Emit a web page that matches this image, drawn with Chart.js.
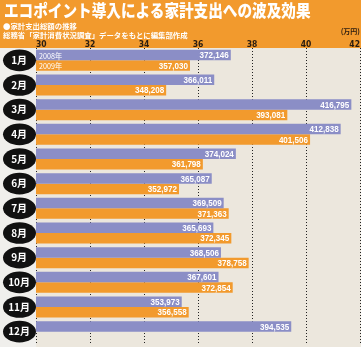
<!DOCTYPE html>
<html>
<head>
<meta charset="utf-8">
<script src="https://cdn.jsdelivr.net/npm/chart.js@4/dist/chart.umd.min.js"></script>
<style>
  html, body { margin: 0; padding: 0; background: #f0efec; }
  #wrap { position: relative; width: 361px; height: 347px; overflow: hidden; }
  #head { position: absolute; left: 0; top: 0; width: 361px; pointer-events: none; color: #fff;
          font-family: "Noto Sans CJK JP", sans-serif; font-weight: bold; white-space: nowrap; }
  #head .t { position: absolute; left: 4px; top: 0px; font-size: 17px; line-height: 20px; font-weight: 900;
             transform: scaleX(0.86); transform-origin: left top; }
  #head .s1 { position: absolute; left: 3px; top: 21px; font-size: 7.4px; line-height: 9px; }
  #head .s2 { position: absolute; left: 3px; top: 29.5px; font-size: 7.4px; line-height: 9px; }
</style>
</head>
<body>
<div id="wrap">
  <canvas id="chart"></canvas>
  <div id="head">
    <div class="t">エコポイント導入による家計支出への波及効果</div>
    <div class="s1">●家計支出総額の推移</div>
    <div class="s2">総務省「家計消費状況調査」データをもとに編集部作成</div>
  </div>
</div>
<script>
const months = ['1月', '2月', '3月', '4月', '5月', '6月', '7月', '8月', '9月', '10月', '11月', '12月'];
const seriesNames = ['2008年', '2009年'];
const spend2008 = [372146, 366011, 416795, 412838, 374024, 365087, 369509, 365693, 368506, 367601, 353973, 394535];
const spend2009 = [357030, 348208, 393081, 401506, 361798, 352972, 371363, 372345, 378758, 372854, 356558, null];
const axisMin = 300000;
const axisMax = 420000;
const axisStep = 20000;
const unitLabel = '(万円)';

const purple = '#8b8ec6';
const orange = '#f29a2d';

// backgrounds + black ovals behind the month names
const backdrop = {
  id: 'backdrop',
  beforeDraw(chart) {
    const { ctx, chartArea: a, width, height, scales: { y } } = chart;
    ctx.save();
    ctx.fillStyle = '#f0efec';
    ctx.fillRect(0, 0, width, height);
    ctx.fillStyle = '#ece7dd';
    ctx.fillRect(a.left, a.top, width - a.left, height - a.top);
    ctx.fillStyle = orange;
    ctx.fillRect(0, 0, width, a.top);
    ctx.fillStyle = '#111';
    const cx = (y.left + y.right) / 2 + 1.5;
    months.forEach((m, i) => {
      ctx.beginPath();
      ctx.ellipse(cx, y.getPixelForValue(i), 16.5, 10.8, 0, 0, Math.PI * 2);
      ctx.fill();
    });
    ctx.restore();
  }
};

// value at the end of each bar, series name at the start of the first pair
const barLabels = {
  id: 'barLabels',
  afterDatasetsDraw(chart) {
    const { ctx, chartArea } = chart;
    chart.data.datasets.forEach((ds, di) => {
      chart.getDatasetMeta(di).data.forEach((bar, i) => {
        const v = ds.data[i];
        if (v == null) return;
        ctx.save();
        ctx.fillStyle = '#fff';
        ctx.textBaseline = 'middle';
        ctx.translate(bar.x - 2, bar.y + 0.5);
        ctx.scale(0.85, 1);
        ctx.font = 'bold 9.5px "Liberation Sans", Arial, sans-serif';
        ctx.textAlign = 'right';
        ctx.fillText(v.toLocaleString('en-US'), 0, 0);
        ctx.restore();
        if (i === 0) {
          ctx.save();
          ctx.fillStyle = '#fff';
          ctx.textBaseline = 'middle';
          ctx.translate(chartArea.left + 3, bar.y + 0.5);
          ctx.scale(0.9, 1);
          ctx.font = '8px "Noto Sans CJK JP", sans-serif';
          ctx.textAlign = 'left';
          ctx.fillText(ds.label, 0, 0);
          ctx.restore();
        }
      });
    });
  }
};

new Chart(document.getElementById('chart'), {
  type: 'bar',
  data: {
    labels: months,
    datasets: [
      { label: seriesNames[0], data: spend2008, backgroundColor: purple },
      { label: seriesNames[1], data: spend2009, backgroundColor: orange }
    ]
  },
  options: {
    indexAxis: 'y',
    responsive: true,
    maintainAspectRatio: false,
    animation: false,
    categoryPercentage: 0.85,
    barPercentage: 1.0,
    layout: { padding: { top: 27, right: 1, bottom: 3, left: 0 } },
    plugins: {
      legend: { display: false },
      tooltip: { enabled: false }
    },
    scales: {
      x: {
        position: 'top',
        min: axisMin,
        max: axisMax,
        afterFit(scale) {
          scale.height = 21;
          scale.paddingLeft = 0;
          scale.paddingRight = 0;
        },
        ticks: {
          stepSize: axisStep,
          align: 'inner',
          padding: -1.5,
          color: '#2b1d10',
          font: { family: '"Liberation Sans Narrow", "DejaVu Sans Condensed", "Liberation Sans", sans-serif', size: 8.5, weight: 'bold' },
          callback: (v) => v / 10000
        },
        grid: { color: '#222', lineWidth: 1, drawTicks: false, tickLength: 0 },
        border: { display: false, dash: [1, 2] },
        title: {
          display: true,
          text: unitLabel,
          align: 'end',
          color: '#2b1d10',
          padding: 0,
          font: { family: '"Noto Sans CJK JP", sans-serif', size: 7, weight: 'bold' }
        }
      },
      y: {
        afterFit(scale) {
          scale.width = 36;
          scale.paddingTop = 0;
          scale.paddingBottom = 0;
        },
        ticks: {
          crossAlign: 'center',
          padding: 6,
          color: '#fff',
          font: { family: '"Noto Sans CJK JP", sans-serif', size: 10, weight: 'bold' }
        },
        grid: { display: false, drawTicks: false, tickLength: 0 },
        border: { display: false }
      }
    }
  },
  plugins: [backdrop, barLabels]
});
</script>
</body>
</html>
